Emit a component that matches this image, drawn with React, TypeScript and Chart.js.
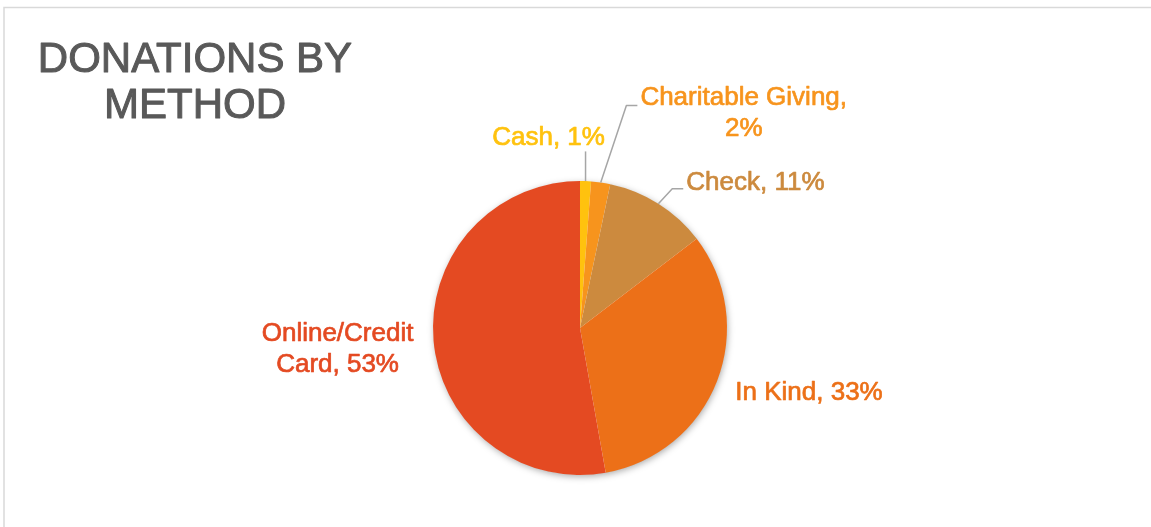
import React, { useEffect, useRef } from "react";
import { Chart, registerables } from "chart.js";

Chart.register(...registerables);

// ---- data ----
const categories = ["Cash", "Charitable Giving", "Check", "In Kind", "Online/Credit Card"];
const shares = [1.2, 2.1, 11.3, 32.6, 52.8];
const sliceColors = ["#FFC20E", "#F7941D", "#CC8A3E", "#EC7018", "#E44A22"];
const titleLines = ["DONATIONS BY", "METHOD"];

// label placement relative to each slice's outer edge point at its mid angle
const labelOffsets = [
  { dx: -37, dy: -45, leader: "vertical", attach: 0 },
  { dx: 143, dy: -71, leader: "elbow", attach: -6 },
  { dx: 97, dy: -23, leader: "elbow", attach: 8 },
  { dx: 92, dy: 9, leader: "none", attach: 0 },
  { dx: -96, dy: 6, leader: "none", attach: 0 },
];

const FONT_FAMILY = '"Liberation Sans", Arial, Helvetica, sans-serif';
const LABEL_SIZE = 26;
const LINE_H = 30.7;
const CAP = 0.716 * LABEL_SIZE;

function wrapText(ctx: CanvasRenderingContext2D, text: string, maxW: number): string[] {
  const words = text.split(" ");
  const lines: string[] = [];
  let cur = "";
  for (const w of words) {
    const t = cur ? cur + " " + w : w;
    if (cur && ctx.measureText(t).width > maxW) {
      lines.push(cur);
      cur = w;
    } else cur = t;
  }
  if (cur) lines.push(cur);
  return lines;
}

const framePlugin = {
  id: "frame",
  beforeDraw(chart: any) {
    const ctx = chart.ctx as CanvasRenderingContext2D;
    ctx.save();
    ctx.fillStyle = "#FFFFFF";
    ctx.fillRect(0, 0, chart.width, chart.height);
    ctx.strokeStyle = "#D9D9D9";
    ctx.lineWidth = 1.5;
    ctx.beginPath();
    ctx.moveTo(4, chart.height);
    ctx.lineTo(4, 7.5);
    ctx.lineTo(chart.width, 7.5);
    ctx.stroke();
    ctx.restore();
  },
};

const shadowPlugin = {
  id: "pieShadow",
  beforeDatasetsDraw(chart: any) {
    const meta = chart.getDatasetMeta(0);
    const arc = meta.data[0];
    if (!arc) return;
    const { x, y, outerRadius } = arc.getProps(["x", "y", "outerRadius"], true);
    const ctx = chart.ctx as CanvasRenderingContext2D;
    ctx.save();
    ctx.shadowColor = "rgba(0,0,0,0.35)";
    ctx.shadowBlur = 7;
    ctx.shadowOffsetX = 1;
    ctx.shadowOffsetY = 2;
    ctx.fillStyle = "#FFFFFF";
    ctx.beginPath();
    ctx.arc(x, y, outerRadius - 0.5, 0, Math.PI * 2);
    ctx.fill();
    ctx.restore();
  },
};

const labelPlugin = {
  id: "pieLabels",
  afterDatasetsDraw(chart: any) {
    const ctx = chart.ctx as CanvasRenderingContext2D;
    const meta = chart.getDatasetMeta(0);
    const data = chart.data.datasets[0].data as number[];
    const total = data.reduce((a, b) => a + b, 0);
    ctx.save();
    ctx.font = `${LABEL_SIZE}px ${FONT_FAMILY}`;
    meta.data.forEach((arc: any, i: number) => {
      const { x, y, startAngle, endAngle, outerRadius } = arc.getProps(
        ["x", "y", "startAngle", "endAngle", "outerRadius"],
        true
      );
      const mid = (startAngle + endAngle) / 2;
      const ex = x + Math.cos(mid) * outerRadius;
      const ey = y + Math.sin(mid) * outerRadius;
      const pct = Math.round((data[i] / total) * 100);
      const text = `${chart.data.labels[i]}, ${pct}%`;
      const lines = wrapText(ctx, text, 216);
      const off = labelOffsets[i];
      const cx = ex + off.dx;
      const cy = ey + off.dy;
      const maxW = Math.max(...lines.map((l) => ctx.measureText(l).width));
      const firstBase = cy + CAP / 2 - ((lines.length - 1) * LINE_H) / 2;

      ctx.strokeStyle = "#A6A6A6";
      ctx.lineWidth = 1.5;
      if (off.leader === "vertical") {
        const bottom = firstBase + (lines.length - 1) * LINE_H + 6;
        ctx.beginPath();
        ctx.moveTo(ex, ey);
        ctx.lineTo(ex, bottom);
        ctx.stroke();
      } else if (off.leader === "elbow") {
        const left = cx - maxW / 2 - 3;
        const ay = cy + off.attach;
        ctx.beginPath();
        ctx.moveTo(ex, ey);
        ctx.lineTo(left - 11, ay);
        ctx.lineTo(left, ay);
        ctx.stroke();
      }

      ctx.fillStyle = sliceColors[i];
      ctx.strokeStyle = sliceColors[i];
      ctx.lineWidth = 0.7;
      ctx.lineJoin = "round";
      ctx.textAlign = "center";
      ctx.textBaseline = "alphabetic";
      lines.forEach((l, k) => {
        ctx.fillText(l, cx, firstBase + k * LINE_H);
        ctx.strokeText(l, cx, firstBase + k * LINE_H);
      });
    });
    ctx.restore();
  },
};

const titlePlugin = {
  id: "titleText",
  afterDraw(chart: any) {
    const ctx = chart.ctx as CanvasRenderingContext2D;
    ctx.save();
    ctx.font = `42px ${FONT_FAMILY}`;
    ctx.fillStyle = "#595959";
    ctx.strokeStyle = "#595959";
    ctx.lineWidth = 1;
    ctx.lineJoin = "round";
    ctx.textAlign = "center";
    ctx.textBaseline = "alphabetic";
    titleLines.forEach((t, k) => {
      ctx.fillText(t, 195, 72 + k * 46);
      ctx.strokeText(t, 195, 72 + k * 46);
    });
    ctx.restore();
  },
};

export default function App() {
  const canvasRef = useRef<HTMLCanvasElement | null>(null);

  useEffect(() => {
    if (!canvasRef.current) return;
    const chart = new Chart(canvasRef.current, {
      type: "pie",
      data: {
        labels: categories,
        datasets: [
          {
            data: shares,
            backgroundColor: sliceColors,
            borderWidth: 0,
            hoverOffset: 0,
          },
        ],
      },
      options: {
        responsive: false,
        animation: false,
        events: [],
        layout: { padding: { left: 433, right: 424, top: 181, bottom: 52 } },
        plugins: {
          legend: { display: false },
          tooltip: { enabled: false },
          title: { display: false },
        },
      },
      plugins: [framePlugin, shadowPlugin, labelPlugin, titlePlugin],
    });
    return () => chart.destroy();
  }, []);

  return (
    <div style={{ position: "fixed", left: 0, top: 0, width: 1151, height: 527, background: "#fff" }}>
      <canvas ref={canvasRef} width={1151} height={527} style={{ display: "block" }} />
    </div>
  );
}
